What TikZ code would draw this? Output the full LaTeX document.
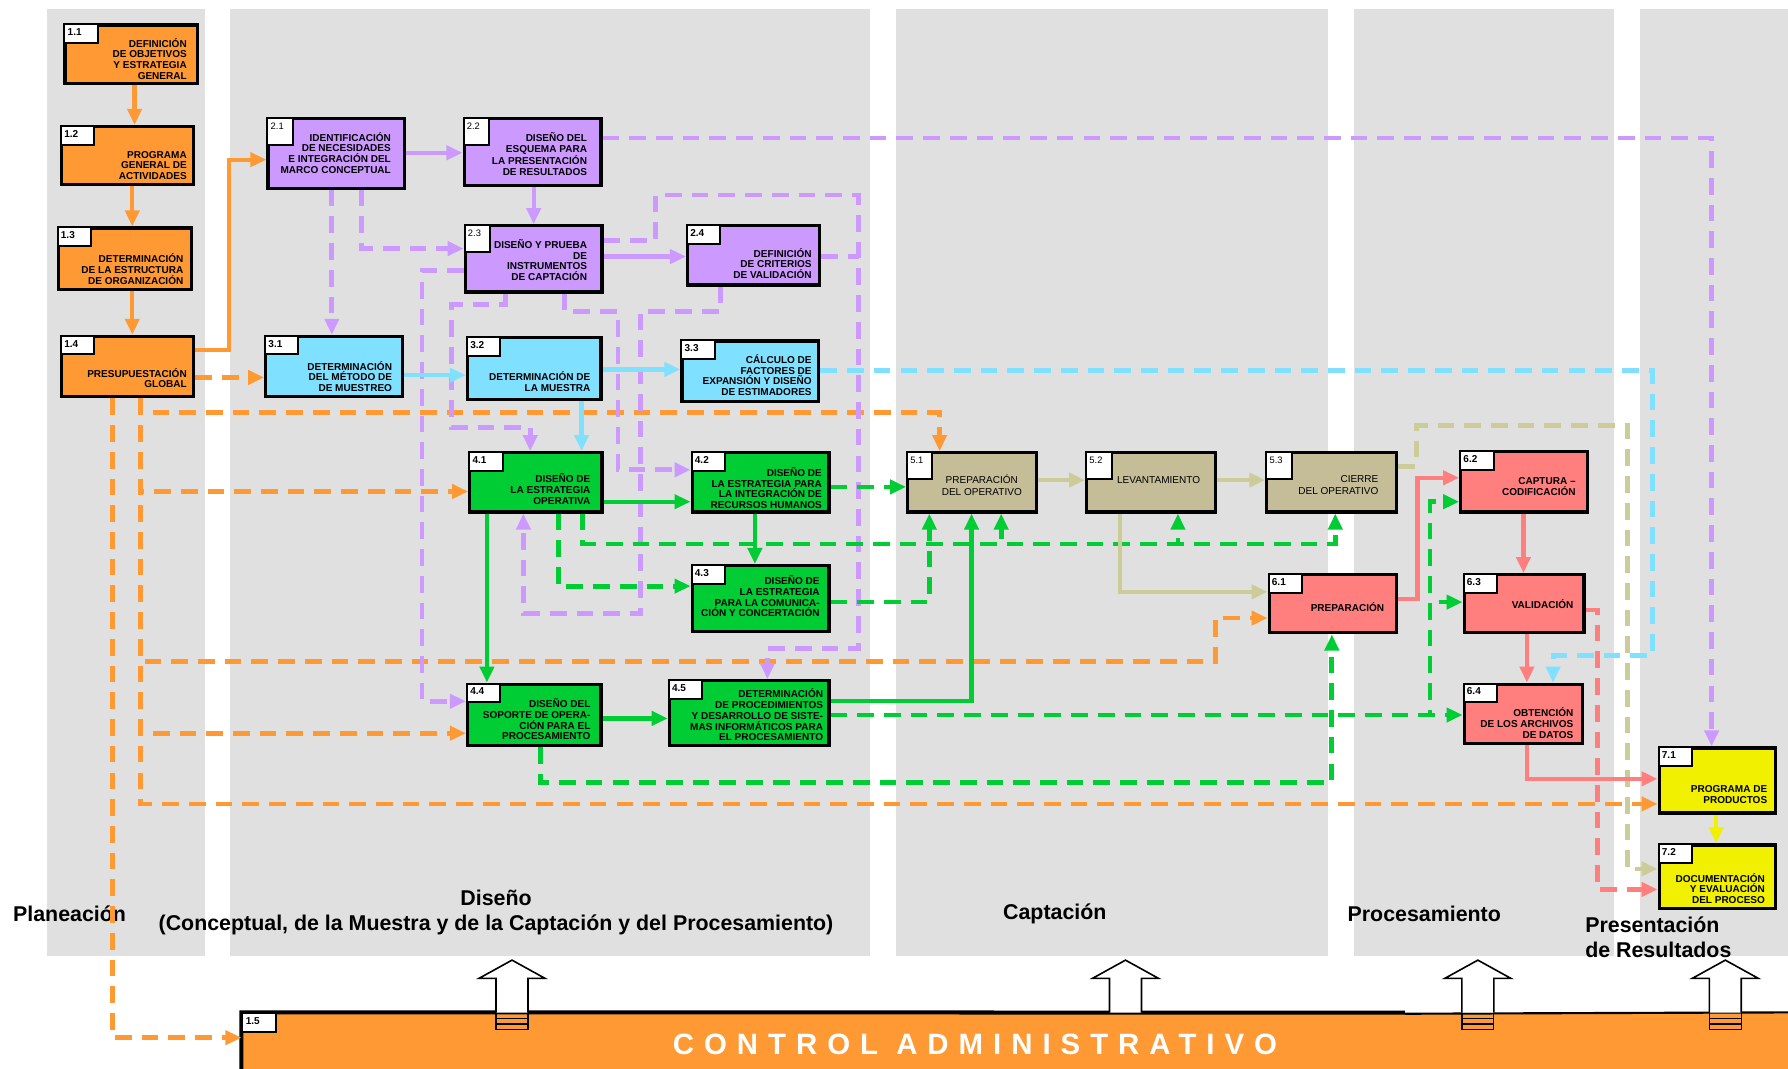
\documentclass[tikz,border=0pt]{standalone}
\usepackage{fontspec}
\setmainfont{Liberation Sans}
\newfontfamily\espaciada[LetterSpace=34]{Liberation Sans}
\usetikzlibrary{arrows.meta,fit}

\definecolor{naranja}{HTML}{FF9933}
\definecolor{morado}{HTML}{CC99FF}
\definecolor{celeste}{HTML}{80E0FF}
\definecolor{verde}{HTML}{00CC33}
\definecolor{arena}{HTML}{C4BD97}
\definecolor{arenal}{HTML}{CCCC99}
\definecolor{rosa}{HTML}{FF7F7F}
\definecolor{amarillo}{HTML}{F0F000}
\definecolor{fondo}{HTML}{E0E0E0}

\begin{document}
\begin{tikzpicture}
    [
      x=0.03cm, y=-0.03cm,
      caja/.style={draw=black, line width=2.4pt, inner sep=0pt},
      num/.style={draw=black, fill=white, line width=1.5pt, anchor=north west,
        inner xsep=2.5pt, inner ysep=2.5pt, text width=20pt, text height=6pt,
        text depth=3pt, align=left, font=\fontsize{7.5}{8}\selectfont\bfseries},
      numalta/.style={num, text width=14pt, text depth=9pt,
        font=\fontsize{7}{8}\selectfont},
      txt/.style={anchor=east, align=right, inner sep=0pt,
        font=\fontsize{7.5}{8}\selectfont\bfseries},
      txtfino/.style={align=center, inner sep=0pt, font=\fontsize{7.5}{9.3}\selectfont},
      titulo/.style={align=center, inner sep=0pt, font=\fontsize{16}{18.7}\selectfont\bfseries},
      flecha/.style={line width=3.2pt, -{Triangle[length=12pt,width=10.5pt]}},
      guion/.style={flecha, line width=3.6pt, dash pattern=on 12.5pt off 7.5pt},
    ]

    \useasboundingbox (0,0) rectangle (1568,937);

    \fill [fondo] (41,8) rectangle (180,838);
    \fill [fondo] (202,8) rectangle (763,838);
    \fill [fondo] (786,8) rectangle (1165,838);
    \fill [fondo] (1187,8) rectangle (1415,838);
    \fill [fondo] (1438,8) rectangle (1568,838);

    \node (b11) [caja, fill=naranja, fit={(57,22) (173,73)}] {};
    \node (n11) [num] at (b11.north west) {1.1};
    \node (t11) [txt] at (164,51.5) {DEFINICIÓN\\DE OBJETIVOS\\Y ESTRATEGIA\\GENERAL};
    \node (b12) [caja, fill=naranja, fit={(54,111) (170,162)}] {};
    \node (n12) [num] at (b12.north west) {1.2};
    \node (t12) [txt] at (164,145) {PROGRAMA\\GENERAL DE\\ACTIVIDADES};
    \node (b13) [caja, fill=naranja, fit={(51,200) (168,254)}] {};
    \node (n13) [num] at (b13.north west) {1.3};
    \node (t13) [txt] at (161,236) {DETERMINACIÓN\\DE LA ESTRUCTURA\\DE ORGANIZACIÓN};
    \node (b14) [caja, fill=naranja, fit={(54,295) (170,348)}] {};
    \node (n14) [num] at (b14.north west) {1.4};
    \node (t14) [txt] at (164,331.5) {PRESUPUESTACIÓN\\GLOBAL};

    \node (b21) [caja, fill=morado, fit={(235,104) (355,165)}] {};
    \node (n21) [numalta] at (b21.north west) {2.1};
    \node (t21) [txt] at (343,134) {IDENTIFICACIÓN\\DE NECESIDADES\\E INTEGRACIÓN DEL\\MARCO CONCEPTUAL};
    \node (b22) [caja, fill=morado, fit={(407,104) (527,163)}] {};
    \node (n22) [numalta] at (b22.north west) {2.2};
    \node (t22) [txt] at (515,135) {DISEÑO DEL\\ESQUEMA PARA\\LA PRESENTACIÓN\\DE RESULTADOS};
    \node (b23) [caja, fill=morado, fit={(408,198) (528,256)}] {};
    \node (n23) [numalta] at (b23.north west) {2.3};
    \node (t23) [txt] at (515,228) {DISEÑO Y PRUEBA\\DE\\INSTRUMENTOS\\DE CAPTACIÓN};
    \node (b24) [caja, fill=morado, fit={(603,198) (719,250)}] {};
    \node (n24) [num] at (b24.north west) {2.4};
    \node (t24) [txt] at (712,231) {DEFINICIÓN\\DE CRITERIOS\\DE VALIDACIÓN};

    \node (b31) [caja, fill=celeste, fit={(233,295) (353,348)}] {};
    \node (n31) [num] at (b31.north west) {3.1};
    \node (t31) [txt] at (344,330) {DETERMINACIÓN\\DEL MÉTODO DE\\DE MUESTREO};
    \node (b32) [caja, fill=celeste, fit={(410,296) (527,350)}] {};
    \node (n32) [num] at (b32.north west) {3.2};
    \node (t32) [txt] at (518,334.5) {DETERMINACIÓN DE\\LA MUESTRA};
    \node (b33) [caja, fill=celeste, fit={(598,299) (718,352)}] {};
    \node (n33) [num] at (b33.north west) {3.3};
    \node (t33) [txt] at (712,329) {CÁLCULO DE\\FACTORES DE\\EXPANSIÓN Y DISEÑO\\DE ESTIMADORES};

    \node (b41) [caja, fill=verde, fit={(412,397) (528,449)}] {};
    \node (n41) [num] at (b41.north west) {4.1};
    \node (t41) [txt] at (518,429) {DISEÑO DE\\LA ESTRATEGIA\\OPERATIVA};
    \node (b42) [caja, fill=verde, fit={(607,397) (727,449)}] {};
    \node (n42) [num] at (b42.north west) {4.2};
    \node (t42) [txt] at (721,428) {DISEÑO DE\\LA ESTRATEGIA PARA\\LA INTEGRACIÓN DE\\RECURSOS HUMANOS};
    \node (b43) [caja, fill=verde, fit={(607,496) (727,554)}] {};
    \node (n43) [num] at (b43.north west) {4.3};
    \node (t43) [txt] at (719,523) {DISEÑO DE\\LA ESTRATEGIA\\PARA LA COMUNICA-\\CIÓN Y CONCERTACIÓN};
    \node (b44) [caja, fill=verde, fit={(410,600) (527,654)}] {};
    \node (n44) [num] at (b44.north west) {4.4};
    \node (t44) [txt] at (518,631) {DISEÑO DEL\\SOPORTE DE OPERA-\\CIÓN PARA EL\\PROCESAMIENTO};
    \node (b45) [caja, fill=verde, fit={(587,597) (727,654)}] {};
    \node (n45) [num] at (b45.north west) {4.5};
    \node (t45) [txt] at (722,627) {DETERMINACIÓN\\DE PROCEDIMIENTOS\\Y DESARROLLO DE SISTE-\\MAS INFORMÁTICOS PARA\\EL PROCESAMIENTO};

    \node (b51) [caja, fill=arena, fit={(796,397) (909,449)}] {};
    \node (n51) [numalta] at (b51.north west) {5.1};
    \node (t51) [txtfino] at (861,425.5) {PREPARACIÓN\\DEL OPERATIVO};
    \node (b52) [caja, fill=arena, fit={(953,397) (1066,449)}] {};
    \node (n52) [numalta] at (b52.north west) {5.2};
    \node (t52) [txtfino] at (1016,421) {LEVANTAMIENTO};
    \node (b53) [caja, fill=arena, fit={(1111,397) (1225,449)}] {};
    \node (n53) [numalta] at (b53.north west) {5.3};
    \node (t53) [txtfino, anchor=east, align=right] at (1209,425.5) {CIERRE\\DEL OPERATIVO};

    \node (b61) [caja, fill=rosa, fit={(1113,504) (1225,555)}] {};
    \node (n61) [num] at (b61.north west) {6.1};
    \node (t61) [txt] at (1214,532) {PREPARACIÓN};
    \node (b62) [caja, fill=rosa, fit={(1281,396) (1392,449)}] {};
    \node (n62) [num] at (b62.north west) {6.2};
    \node (t62) [txt] at (1382,426.5) {CAPTURA –\\CODIFICACIÓN};
    \node (b63) [caja, fill=rosa, fit={(1284,504) (1389,555)}] {};
    \node (n63) [num] at (b63.north west) {6.3};
    \node (t63) [txt] at (1380,530) {VALIDACIÓN};
    \node (b64) [caja, fill=rosa, fit={(1284,600) (1388,652)}] {};
    \node (n64) [num] at (b64.north west) {6.4};
    \node (t64) [txt] at (1380,634) {OBTENCIÓN\\DE LOS ARCHIVOS\\DE DATOS};

    \node (b71) [caja, fill=amarillo, fit={(1455,656) (1557,713)}] {};
    \node (n71) [num] at (b71.north west) {7.1};
    \node (t71) [txt] at (1550,697) {PROGRAMA DE\\PRODUCTOS};
    \node (b72) [caja, fill=amarillo, fit={(1455,741) (1557,797)}] {};
    \node (n72) [num] at (b72.north west) {7.2};
    \node (t72) [txt] at (1548,779) {DOCUMENTACIÓN\\Y EVALUACIÓN\\DEL PROCESO};

    \node (b15) [fill=naranja, inner sep=0pt, fit={(212,888) (1580,950)}] {};
    \draw [line width=3pt] (b15.south west) -- (b15.north west) -- (1232,888);
    \draw [line width=1.6pt] (1232,889) -- (b15.north east);
    \node (n15) [num] at (b15.north west) {1.5};
    \node (ctrl) [text=white, font=\fontsize{22}{26}\selectfont\bfseries\espaciada] at (855,916) {CONTROL ADMINISTRATIVO};

    \node (tplan) [titulo] at (61,801) {Planeación};
    \node (tdis) [titulo] at (435,800) {Diseño\\(Conceptual, de la Muestra y de la Captación y del Procesamiento)};
    \node (tcap) [titulo] at (925,801) {Captación};
    \node (tpro) [titulo] at (1249,801) {Procesamiento};
    \node (tpre) [titulo, anchor=west, align=left] at (1390,822) {Presentación\\de Resultados};

    \draw [flecha, naranja] (b11.south -| 118,0) -- (b12.north -| 118,0);
    \draw [flecha, naranja] (b12.south -| 116,0) -- (b13.north -| 116,0);
    \draw [flecha, naranja] (b13.south -| 116,0) -- (b14.north -| 116,0);
    \draw [flecha, naranja] (b14.east |- 0,307) -| (201,140) -- (b21.west |- 0,140);
    \draw [guion, naranja] (b14.east |- 0,331) -- (b31.west |- 0,331);
    \draw [guion, naranja] (b14.south -| 99,0) |- (b15.west |- 0,910);
    \draw [guion, naranja] (b14.south -| 123,0) |- (824,362) -- (b51.north -| 824,0);
    \draw [guion, naranja] (b14.south -| 123,0) |- (b41.west |- 0,431);
    \draw [guion, naranja] (b14.south -| 123,0) |- (1066,580) |- (b61.west |- 0,542);
    \draw [guion, naranja] (b14.south -| 123,0) |- (b44.west |- 0,643);
    \draw [guion, naranja] (b14.south -| 123,0) |- (b71.west |- 0,705);

    \draw [flecha, morado] (b21.east |- 0,134) -- (b22.west |- 0,134);
    \draw [flecha, morado] (b22.south -| 468,0) -- (b23.north -| 468,0);
    \draw [flecha, morado] (b23.east |- 0,225) -- (b24.west |- 0,225);
    \draw [guion, morado] (b21.south -| 291,0) -- (b31.north -| 291,0);
    \draw [guion, morado] (b21.south -| 317,0) |- (b23.west |- 0,218);
    \draw [guion, morado] (b22.east |- 0,121) -| (b71.north -| 1501,0);
    \draw [guion, morado] (b23.east |- 0,211) -| (575,171) -| (753,569) -| (b45.north -| 673,0);
    \draw [guion, morado, -] (b24.east |- 0,225) -- (753,225);
    \draw [guion, morado] (b23.west |- 0,237) -| (370,615) -- (b44.west |- 0,615);
    \draw [guion, morado] (b23.south -| 443,0) |- (396,267) |- (465,375) -- (b41.north -| 465,0);
    \draw [guion, morado] (b23.south -| 495,0) |- (542,273) |- (b42.west |- 0,412);
    \draw [guion, morado] (b24.south -| 632,0) |- (562,273) |- (459,538) -- (b41.south -| 459,0);

    \draw [flecha, celeste] (b31.east |- 0,329) -- (b32.west |- 0,329);
    \draw [flecha, celeste] (b32.east |- 0,324) -- (b33.west |- 0,324);
    \draw [flecha, celeste] (b32.south -| 510,0) -- (b41.north -| 510,0);
    \draw [guion, celeste] (b33.east |- 0,325) -| (1449,575) -| (b64.north -| 1362,0);

    \draw [flecha, verde] (b41.east |- 0,440) -- (b42.west |- 0,440);
    \draw [flecha, verde] (b41.south -| 427,0) -- (b44.north -| 427,0);
    \draw [flecha, verde] (b42.south -| 662,0) -- (b43.north -| 662,0);
    \draw [flecha, verde] (b44.east |- 0,630) -- (b45.west |- 0,630);
    \draw [flecha, verde] (b45.east |- 0,615) -| (b51.south -| 852,0);
    \draw [guion, verde] (b42.east |- 0,427) -- (b51.west |- 0,427);
    \draw [guion, verde] (b41.south -| 490,0) |- (b43.west |- 0,514);
    \draw [guion, verde] (b41.south -| 511,0) |- (878,477) -- (b51.south -| 878,0);
    \draw [guion, verde] (b41.south -| 511,0) |- (1033,477) -- (b52.south -| 1033,0);
    \draw [guion, verde] (b41.south -| 511,0) |- (1171,477) -- (b53.south -| 1171,0);
    \draw [guion, verde] (b43.east |- 0,528) -| (b51.south -| 815,0);
    \draw [guion, verde] (b45.east |- 0,627) -- (b64.west |- 0,627);
    \draw [guion, verde] (b45.east |- 0,627) -| (1254,528) -- (b63.west |- 0,528);
    \draw [guion, verde] (b45.east |- 0,627) -| (1254,440) -- (b62.west |- 0,440);
    \draw [guion, verde] (b44.south -| 474,0) |- (1168,686) -- (b61.south -| 1168,0);

    \draw [flecha, arenal] (b51.east |- 0,421) -- (b52.west |- 0,421);
    \draw [flecha, arenal] (b52.east |- 0,421) -- (b53.west |- 0,421);
    \draw [flecha, arenal] (b52.south -| 982,0) |- (b61.west |- 0,519);
    \draw [guion, arenal] (b53.east |- 0,409) -| (1242,373) -| (1427,762) -- (b72.west |- 0,762);

    \draw [flecha, rosa] (b61.east |- 0,525) -| (1243,419) -- (b62.west |- 0,419);
    \draw [flecha, rosa] (b62.south -| 1336,0) -- (b63.north -| 1336,0);
    \draw [flecha, rosa] (b63.south -| 1339,0) -- (b64.north -| 1339,0);
    \draw [flecha, rosa] (b64.south -| 1339,0) |- (b71.west |- 0,683);
    \draw [guion, rosa] (b63.east |- 0,535) -| (1401,780) -- (b72.west |- 0,780);

    \draw [flecha, amarillo] (b71.south -| 1505,0) -- (b72.north -| 1505,0);

    \foreach \c in {449,987,1296,1513}
      \draw [fill=white, line width=1.2pt] (\c-14,888) -- (\c-14,858) -- (\c-29,858)
        -- (\c,842) -- (\c+29,858) -- (\c+14,858) -- (\c+14,888);
    \foreach \c in {449,1296,1513} {
      \draw [line width=1pt] (\c-14,888) -- (\c-14,903) (\c+14,888) -- (\c+14,903);
      \foreach \y in {893,898,903}
        \draw [line width=1pt] (\c-14,\y) -- (\c+14,\y);
    }

  \end{tikzpicture}
\end{document}
